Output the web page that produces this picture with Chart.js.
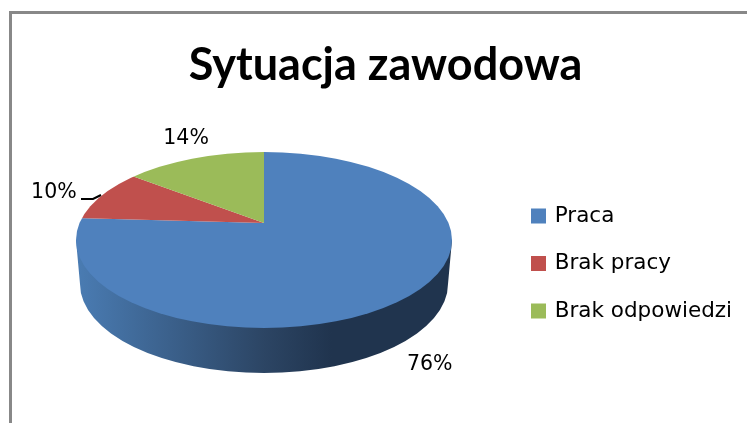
<!DOCTYPE html>
<html>
<head>
<meta charset="utf-8">
<style>html,body{margin:0;padding:0;background:#fff}#w{width:747px;height:423px}</style>
<script src="https://cdn.jsdelivr.net/npm/chart.js@4/dist/chart.umd.min.js"></script>
</head>
<body>
<div id="w"><canvas id="c" width="747" height="423"></canvas></div>
<script>
const categories = ['Praca', 'Brak pracy', 'Brak odpowiedzi'];
const shares = [76, 10, 14];
const colours = ['#4F81BD', '#C0504D', '#9BBB59'];

const TITLE_FONT = 'Lato, sans-serif';
const TEXT_FONT = '"DejaVu Sans", sans-serif';
const APEX = {x: 264, y: 223};
const TILT = 0.43;
const TOP_FACE = {cx: 264, cy: 240, rx: 188, ry: 88};
const BOTTOM_FACE = {cx: 264, cy: 284, rx: 184, ry: 89};
const LABEL_RADII = [[242, 194], [226, 82], [183, 93]];

const pie3d = {
  id: 'pie3d',
  afterLayout(chart) {
    const l = chart.legend;
    const dx = 533 - (l.left + l.options.labels.padding);
    l.left += dx; l.right += dx;
    l.top += 52; l.bottom += 52;
    chart.titleBlock.left += 24;
  },
  beforeDraw(chart) {
    const c = chart.ctx;
    c.save();
    c.fillStyle = '#888888';
    c.fillRect(9, 11, 738, 3);
    c.fillRect(9, 11, 3, 412);
    c.restore();
  },
  beforeDatasetsDraw(chart) {
    const c = chart.ctx, t = TOP_FACE, b = BOTTOM_FACE;
    const g = c.createLinearGradient(t.cx - t.rx, 0, t.cx + t.rx, 0);
    g.addColorStop(0, '#4a7cb3');
    g.addColorStop(0.5, '#2c4564');
    g.addColorStop(0.68, '#20344e');
    g.addColorStop(1, '#20344e');
    c.save();
    c.fillStyle = g;
    c.beginPath();
    c.moveTo(t.cx - t.rx, t.cy);
    c.lineTo(b.cx - b.rx, b.cy);
    c.ellipse(b.cx, b.cy, b.rx, b.ry, 0, Math.PI, 0, true);
    c.lineTo(t.cx + t.rx, t.cy);
    c.closePath();
    c.fill();
    c.restore();

    const arc = chart.getDatasetMeta(0).data[0];
    c.save();
    c.beginPath();
    c.ellipse(t.cx, t.cy, t.rx, t.ry, 0, 0, Math.PI * 2);
    c.clip();
    c.translate(APEX.x, APEX.y);
    c.scale(1, TILT);
    c.translate(-arc.x, -arc.y);
  },
  afterDatasetsDraw(chart) {
    const c = chart.ctx;
    c.restore();
    c.save();
    c.font = '20.5px ' + TEXT_FONT;
    c.fillStyle = '#000';
    c.textAlign = 'center';
    c.textBaseline = 'middle';
    chart.getDatasetMeta(0).data.forEach((a, i) => {
      const m = (a.startAngle + a.endAngle) / 2;
      c.fillText(shares[i] + '%', APEX.x + Math.cos(m) * LABEL_RADII[i][0], APEX.y + Math.sin(m) * LABEL_RADII[i][1]);
    });
    c.strokeStyle = '#000';
    c.lineWidth = 2;
    c.beginPath();
    c.moveTo(81, 199);
    c.lineTo(93, 199);
    c.lineTo(101, 195);
    c.stroke();
    c.restore();
  }
};

new Chart(document.getElementById('c'), {
  type: 'pie',
  data: {
    labels: categories,
    datasets: [{data: shares, backgroundColor: colours, borderWidth: 0, radius: 320, clip: false}]
  },
  options: {
    responsive: false,
    animation: false,
    layout: {padding: 0},
    plugins: {
      tooltip: {enabled: false},
      title: {
        display: true,
        text: 'Sytuacja zawodowa',
        color: '#000',
        font: {family: TITLE_FONT, size: 45, weight: 'bold'},
        padding: {top: 38, bottom: 13}
      },
      legend: {
        position: 'right',
        labels: {
          color: '#000',
          font: {family: TEXT_FONT, size: 21.5},
          boxWidth: 11,
          boxHeight: 11,
          padding: 26,
          generateLabels(chart) {
            return Chart.overrides.pie.plugins.legend.labels.generateLabels(chart).map(i => ({
              ...i, strokeStyle: i.fillStyle, lineWidth: 4
            }));
          }
        }
      }
    }
  },
  plugins: [pie3d]
});
</script>
</body>
</html>
